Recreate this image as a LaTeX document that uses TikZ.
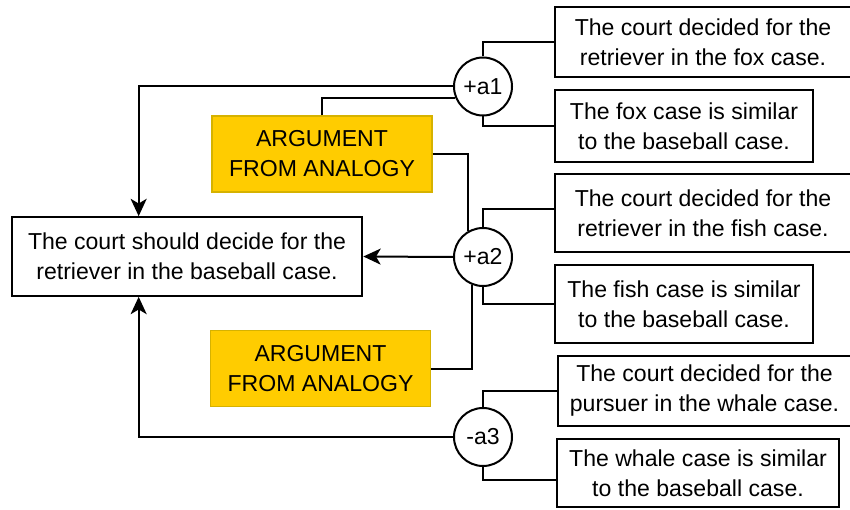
\documentclass[tikz,border=0pt]{standalone}
\usepackage{fontspec}
\setmainfont{Liberation Sans}
\usetikzlibrary{arrows.meta}
\definecolor{argyellow}{RGB}{255,204,0}
\definecolor{argborder}{RGB}{214,178,0}
\tikzset{
	stmt/.style={draw, line width=1.5pt, align=center, inner sep=0pt, font=\fontsize{17.3}{22.5}\selectfont},
	scheme/.style={stmt, fill=argyellow, draw=argborder, line width=0.8pt},
	argnode/.style={draw, circle, line width=1.5pt, minimum size=43.5pt, inner sep=0pt, font=\fontsize{17.3}{20}\selectfont},
	link/.style={line width=1.5pt},
	arrow/.style={link, -{Stealth[length=13pt,width=12pt,inset=3.5pt]}}
}
\begin{document}
\begin{tikzpicture}[x=0.75pt,y=-0.75pt]
	\useasboundingbox (0,0) rectangle (850,510);
	% conclusion
	\node[stmt, minimum width=263pt, minimum height=59pt] (concl) at (187,256.5) {The court should decide for the\\retriever in the baseball case.};
	% arguments
	\node[argnode] (a1) at (483,86.5) {+a1};
	\node[argnode] (a2) at (483,257) {+a2};
	\node[argnode] (a3) at (483,437) {-a3};
	% schemes
	\node[scheme, minimum width=165pt, minimum height=57pt] (arg1) at (322,154) {ARGUMENT\\FROM ANALOGY};
	\node[scheme, minimum width=165.5pt, minimum height=57.5pt] (arg2) at (320.5,368.5) {ARGUMENT\\FROM ANALOGY};
	% premises
	\node[stmt, minimum width=222pt, minimum height=52.5pt] (p1) at (703,42) {The court decided for the\\retriever in the fox case.};
	\node[stmt, minimum width=193pt, minimum height=54pt] (p2) at (684,126) {The fox case is similar\\to the baseball case.};
	\node[stmt, minimum width=222pt, minimum height=58.5pt] (p3) at (703,213) {The court decided for the\\retriever in the fish case.};
	\node[stmt, minimum width=193pt, minimum height=58.5pt] (p4) at (684,304) {The fish case is similar\\to the baseball case.};
	\node[stmt, minimum width=220pt, minimum height=52.5pt] (p5) at (704.5,391) {The court decided for the\\pursuer in the whale case.};
	\node[stmt, minimum width=212pt, minimum height=51pt] (p6) at (698,473) {The whale case is similar\\to the baseball case.};
	% connectors
	\draw[arrow] (a1.west) -| ([xshift=96pt]concl.north west);
	\draw[arrow] (a2.west) -- (concl.east);
	\draw[arrow] (a3.west) -| ([xshift=96pt]concl.south west);
	\draw[link] (arg1.north) |- (a1.203);
	\draw[link] (arg1.east) -| (a2.119);
	\draw[link] (arg2.east) -| (a2.249);
	\draw[link] (a1.north) |- (p1.west);
	\draw[link] (a1.south) |- (p2.west);
	\draw[link] (a2.north) |- ([yshift=3pt]p3.west);
	\draw[link] (a2.south) |- (p4.west);
	\draw[link] (a3.north) |- (p5.west);
	\draw[link] (a3.south) |- ([yshift=-5pt]p6.west);
\end{tikzpicture}
\end{document}
